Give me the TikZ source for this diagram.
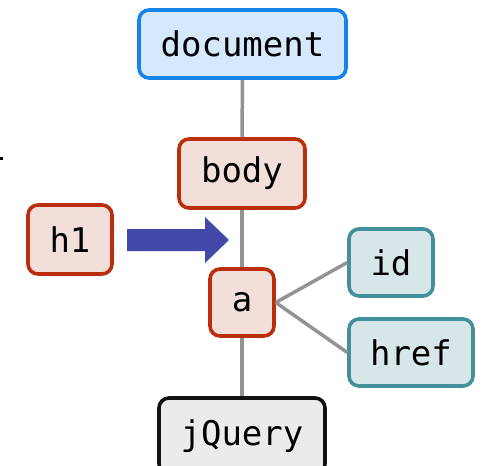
\documentclass[tikz,border=0pt]{standalone}
\usepackage{fontspec}
\setmonofont{DejaVu Sans Mono}
\definecolor{docfill}{HTML}{D5E8FC}
\definecolor{docdraw}{HTML}{1683E6}
\definecolor{elfill}{HTML}{F2DFDA}
\definecolor{eldraw}{HTML}{BB2E0C}
\definecolor{atfill}{HTML}{D7E6E8}
\definecolor{atdraw}{HTML}{43909A}
\definecolor{jqfill}{HTML}{EBEBEB}
\definecolor{jqdraw}{HTML}{111111}
\definecolor{linkc}{HTML}{939393}
\definecolor{arrowc}{HTML}{4349A8}
\tikzset{
  box/.style={rectangle, rounded corners=10pt, line width=3.6pt, inner sep=0pt,
    font=\ttfamily\fontsize{34}{34}\selectfont},
  docbox/.style={box, draw=docdraw, fill=docfill},
  elbox/.style={box, draw=eldraw, fill=elfill},
  atbox/.style={box, draw=atdraw, fill=atfill},
  jqbox/.style={box, draw=jqdraw, fill=jqfill},
  link/.style={draw=linkc, line width=3.5pt},
}
\begin{document}
\begin{tikzpicture}[x=1pt,y=-1pt]
\useasboundingbox (0,0) rectangle (483,466);
\begin{scope}
\clip (0,0) rectangle (483,466);
\node[docbox, minimum width=207pt, minimum height=68pt] (doc) at (242.5,44) {document};
\node[elbox, minimum width=126pt, minimum height=69pt] (body) at (242,173.5) {body};
\node[elbox, minimum width=84pt, minimum height=69pt] (h1) at (70,239.5) {h1};
\node[elbox, minimum width=64pt, minimum height=67pt] (a) at (242,302.5) {a};
\node[atbox, minimum width=84pt, minimum height=67pt] (id) at (391,262.5) {id};
\node[atbox, minimum width=124pt, minimum height=67pt] (href) at (411,352.5) {href};
\node[jqbox, minimum width=166pt, minimum height=76pt] (jq) at (242,436) {jQuery};
\end{scope}
\draw[link] (doc.south) -- (body.north);
\draw[link] (body.south) -- (a.north);
\draw[link] (a.south) -- (jq.north);
\draw[link] (a.east) -- (id.west);
\draw[link] (a.east) -- (href.west);
\coordinate (arrS) at (127,240);
\coordinate (arrT) at (229,240);
\fill[arrowc] (arrS) ++(0,-11) -- (205,229) -- (205,217) -- (arrT) -- (205,263) -- (205,251) -- (127,251) -- cycle;
\fill[black] (0,157) rectangle (3,159.5);
\end{tikzpicture}
\end{document}
